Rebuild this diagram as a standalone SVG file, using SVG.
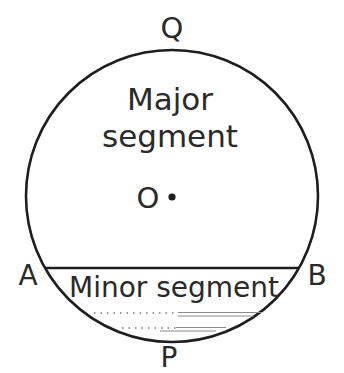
<svg xmlns="http://www.w3.org/2000/svg" width="344" height="373" viewBox="0 0 344 373">
  <style>
    .lbl { font-family: "DejaVu Sans", "Liberation Sans", sans-serif; fill: #2a2a2a; text-anchor: middle; }
    .shape { fill: none; stroke: #1e1e1e; stroke-width: 2.6; }
    .hatch { fill: none; stroke: #8a8a8a; stroke-width: 1; }
    .tick { fill: none; stroke: #777777; stroke-width: 1.3; stroke-dasharray: 1.5 5; }
  </style>
  <rect width="344" height="373" fill="#ffffff"/>
  <g id="circle">
    <circle class="shape" cx="172" cy="196" r="146"/>
  </g>
  <g id="chord-AB">
    <line class="shape" x1="45" y1="268" x2="299" y2="268"/>
  </g>
  <g id="hatching">
    <line class="tick" x1="94" y1="313" x2="178" y2="313"/>
    <line class="hatch" x1="178" y1="312.5" x2="262" y2="312.5"/>
    <line class="hatch" x1="178" y1="316" x2="254" y2="316"/>
    <line class="tick" x1="122" y1="328" x2="176" y2="328"/>
    <line class="hatch" x1="176" y1="327.5" x2="226" y2="327.5"/>
    <line class="hatch" x1="160" y1="331" x2="216" y2="331"/>
  </g>
  <g id="centre-O">
    <circle cx="172" cy="197" r="3.6" fill="#1e1e1e"/>
    <text class="lbl" x="148" y="208" font-size="29">O</text>
  </g>
  <g id="labels">
    <text class="lbl" x="172" y="38" font-size="29">Q</text>
    <text class="lbl" x="169" y="367" font-size="28">P</text>
    <text class="lbl" x="28" y="285" font-size="28">A</text>
    <text class="lbl" x="317" y="285" font-size="28">B</text>
    <text class="lbl" x="170" y="110" font-size="31">Major</text>
    <text class="lbl" x="170" y="147" font-size="31">segment</text>
    <text class="lbl" x="174" y="297" font-size="28">Minor segment</text>
  </g>
</svg>
